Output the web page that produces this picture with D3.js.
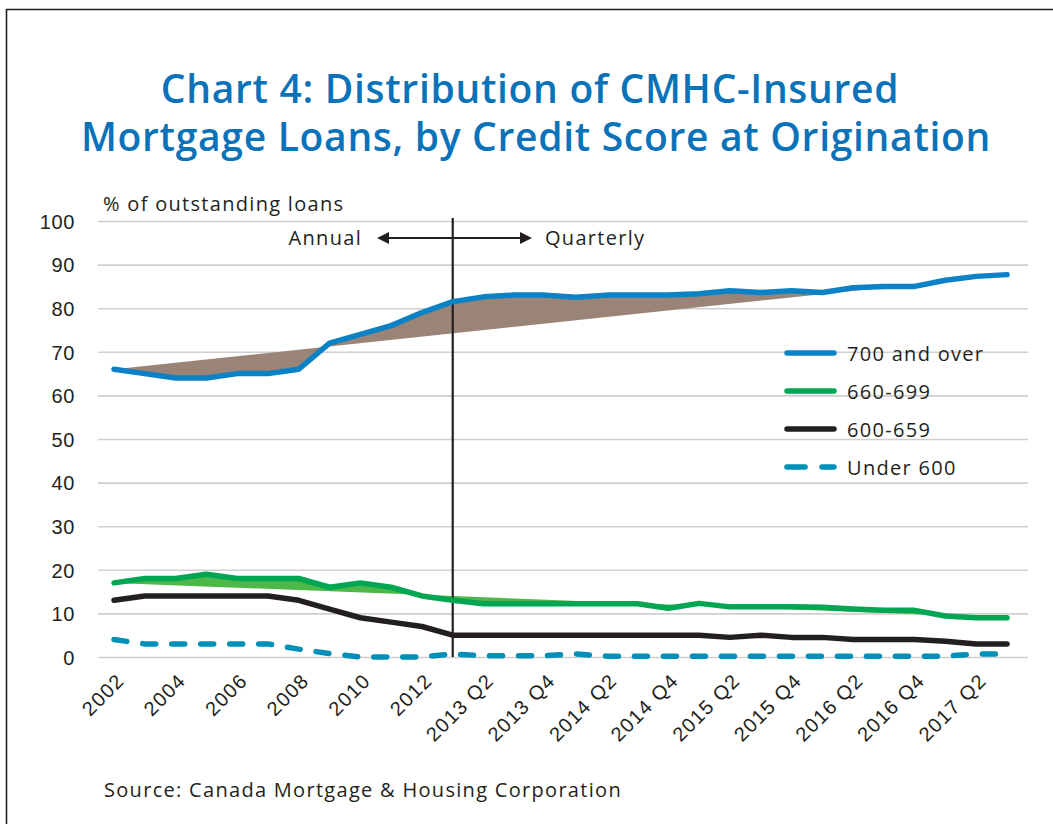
<!DOCTYPE html>
<html>
<head>
<meta charset="utf-8">
<script src="https://cdn.jsdelivr.net/npm/d3@7/dist/d3.min.js"></script>
<style>
  html, body { margin: 0; padding: 0; background: #fff; }
  svg { display: block; font-family: "Open Sans", sans-serif; }
  .grid line { stroke: #cfcfcf; stroke-width: 1.6; }
  .axis text { fill: #231f20; font-size: 20px; }
  .label { fill: #231f20; font-size: 20px; letter-spacing: 1.3px; }
</style>
</head>
<body>
<div id="chart"></div>
<script>
// categories: annual then quarterly
const categories = ['2002', '2003', '2004', '2005', '2006', '2007', '2008', '2009', '2010', '2011', '2012',
  '2013 Q1', '2013 Q2', '2013 Q3', '2013 Q4', '2014 Q1', '2014 Q2', '2014 Q3', '2014 Q4',
  '2015 Q1', '2015 Q2', '2015 Q3', '2015 Q4', '2016 Q1', '2016 Q2', '2016 Q3', '2016 Q4',
  '2017 Q1', '2017 Q2', '2017 Q3'];

const over700 = [66, 65, 64, 64, 65, 65, 66, 72, 74, 76, 79,
  81.5, 82.6, 83, 83, 82.5, 83, 83, 83, 83.3, 84, 83.6, 84, 83.6, 84.7, 85, 85, 86.4, 87.3, 87.7];
const s660to699 = [17, 18, 18, 19, 18, 18, 18, 16, 17, 16, 14,
  13, 12.2, 12.2, 12.2, 12.2, 12.2, 12.2, 11.2, 12.3, 11.5, 11.5, 11.5, 11.4, 11, 10.7, 10.7, 9.4, 9, 9];
const s600to659 = [13, 14, 14, 14, 14, 14, 13, 11, 9, 8, 7,
  5, 5, 5, 5, 5, 5, 5, 5, 5, 4.5, 5, 4.5, 4.5, 4, 4, 4, 3.6, 3, 3];
const under600 = [4, 3, 3, 3, 3, 3, 1.8, 0.8, 0, 0, 0,
  0.7, 0.3, 0.3, 0.3, 0.7, 0.2, 0.2, 0.2, 0.2, 0.2, 0.2, 0.2, 0.2, 0.2, 0.2, 0.2, 0.2, 0.7, 0.7];

// straight reference segments that bound the shaded areas
const over700Base = [{ cat: '2002', v: 66 }, { cat: '2017 Q3', v: 87.7 }];
const s660Base = [{ cat: '2002', v: 17 }, { cat: '2017 Q3', v: 9 }];

const yTicks = [0, 10, 20, 30, 40, 50, 60, 70, 80, 90, 100];

const series = [
  { name: '700 and over', values: over700, color: '#0b82c6', dash: null },
  { name: '660-699', values: s660to699, color: '#00a651', dash: null },
  { name: '600-659', values: s600to659, color: '#231f20', dash: null },
  { name: 'Under 600', values: under600, color: '#008fb6', dash: '13,16' }
];

const width = 1053;
const height = 824;
const plot = { left: 98, right: 1028, top: 221, bottom: 657 };

const svg = d3.select('#chart').append('svg')
  .attr('width', width)
  .attr('height', height);

// рамка
svg.append('path')
  .attr('d', `M6.5,${height} V9.5 H${width}`)
  .attr('fill', 'none')
  .attr('stroke', '#231f20')
  .attr('stroke-width', 1.6);

// заголовок
const title = svg.append('text')
  .attr('text-anchor', 'middle')
  .attr('fill', '#0a72b9')
  .style('font-size', '39px')
  .style('font-weight', 600)
  .style('letter-spacing', '0.7px');
title.append('tspan').attr('x', 530).attr('y', 103).text('Chart 4: Distribution of CMHC-Insured');
title.append('tspan').attr('x', 536).attr('y', 151).text('Mortgage Loans, by Credit Score at Origination');

const xScale = d3.scalePoint().domain(categories).range([114, 1007]);
const yScale = d3.scaleLinear().domain([0, 100]).range([plot.bottom, plot.top]);

// сетка и ось Y
const yAxis = svg.append('g')
  .attr('class', 'axis grid')
  .attr('transform', `translate(${plot.left},0)`)
  .call(d3.axisLeft(yScale).tickValues(yTicks).tickSize(-(plot.right - plot.left)).tickPadding(23));
yAxis.select('.domain').remove();
yAxis.selectAll('text').attr('dy', '0.36em').style('letter-spacing', '0.6px');

svg.append('text')
  .attr('class', 'label')
  .attr('x', 103)
  .attr('y', 211)
  .text('% of outstanding loans');

// ось X
const xAxis = svg.append('g')
  .attr('class', 'axis')
  .attr('transform', `translate(0,${plot.bottom})`)
  .call(d3.axisBottom(xScale).tickValues(categories.filter((d, i) => i % 2 === 0)).tickSize(0));
xAxis.select('.domain').remove();
xAxis.selectAll('text')
  .attr('y', 0)
  .attr('dy', 0)
  .attr('text-anchor', 'end')
  .style('letter-spacing', '1.3px')
  .attr('transform', 'translate(11,25) rotate(-45)');

// заливки между линией и прямой
function shadePath(values, base) {
  const pts = values.map((v, i) => [xScale(categories[i]), yScale(v)]);
  base.slice().reverse().forEach(b => pts.push([xScale(b.cat), yScale(b.v)]));
  return d3.line()(pts) + 'Z';
}

svg.append('path')
  .attr('d', shadePath(over700, over700Base))
  .attr('fill', '#9a8477');

svg.append('path')
  .attr('d', shadePath(s660to699, s660Base))
  .attr('fill', '#4db848');

// вертикальный разделитель
const splitX = xScale('2013 Q1');
svg.append('line')
  .attr('x1', splitX).attr('x2', splitX)
  .attr('y1', 218).attr('y2', plot.bottom)
  .attr('stroke', '#231f20')
  .attr('stroke-width', 2.2);

// линии
const line = d3.line()
  .x((d, i) => xScale(categories[i]))
  .y(d => yScale(d));

series.slice().reverse().forEach(s => {
  svg.append('path')
    .attr('d', line(s.values))
    .attr('fill', 'none')
    .attr('stroke', s.color)
    .attr('stroke-width', 5.5)
    .attr('stroke-linejoin', 'round')
    .attr('stroke-linecap', 'round')
    .attr('stroke-dasharray', s.dash);
});

// стрелка Annual / Quarterly
const arrowY = 238;
svg.append('line')
  .attr('x1', 385).attr('x2', 524)
  .attr('y1', arrowY).attr('y2', arrowY)
  .attr('stroke', '#231f20')
  .attr('stroke-width', 2);
svg.append('path')
  .attr('d', `M377,${arrowY} l12,-6 v12 Z M532,${arrowY} l-12,-6 v12 Z`)
  .attr('fill', '#231f20');
svg.append('text')
  .attr('class', 'label')
  .attr('x', 362).attr('y', 245)
  .attr('text-anchor', 'end')
  .text('Annual');
svg.append('text')
  .attr('class', 'label')
  .attr('x', 545).attr('y', 245)
  .text('Quarterly');

// легенда
const legend = svg.append('g').attr('transform', 'translate(785,353)');
series.forEach((s, i) => {
  const row = legend.append('g').attr('transform', `translate(0,${i * 38})`);
  row.append('line')
    .attr('x1', 2).attr('x2', 49)
    .attr('stroke', s.color)
    .attr('stroke-width', 5.5)
    .attr('stroke-linecap', 'round')
    .attr('stroke-dasharray', s.dash ? '18,17' : null);
  row.append('text')
    .attr('class', 'label')
    .attr('x', 62)
    .attr('y', 8)
    .text(s.name);
});

// источник
svg.append('text')
  .attr('class', 'label')
  .attr('x', 104)
  .attr('y', 797)
  .text('Source: Canada Mortgage & Housing Corporation');
</script>
</body>
</html>
